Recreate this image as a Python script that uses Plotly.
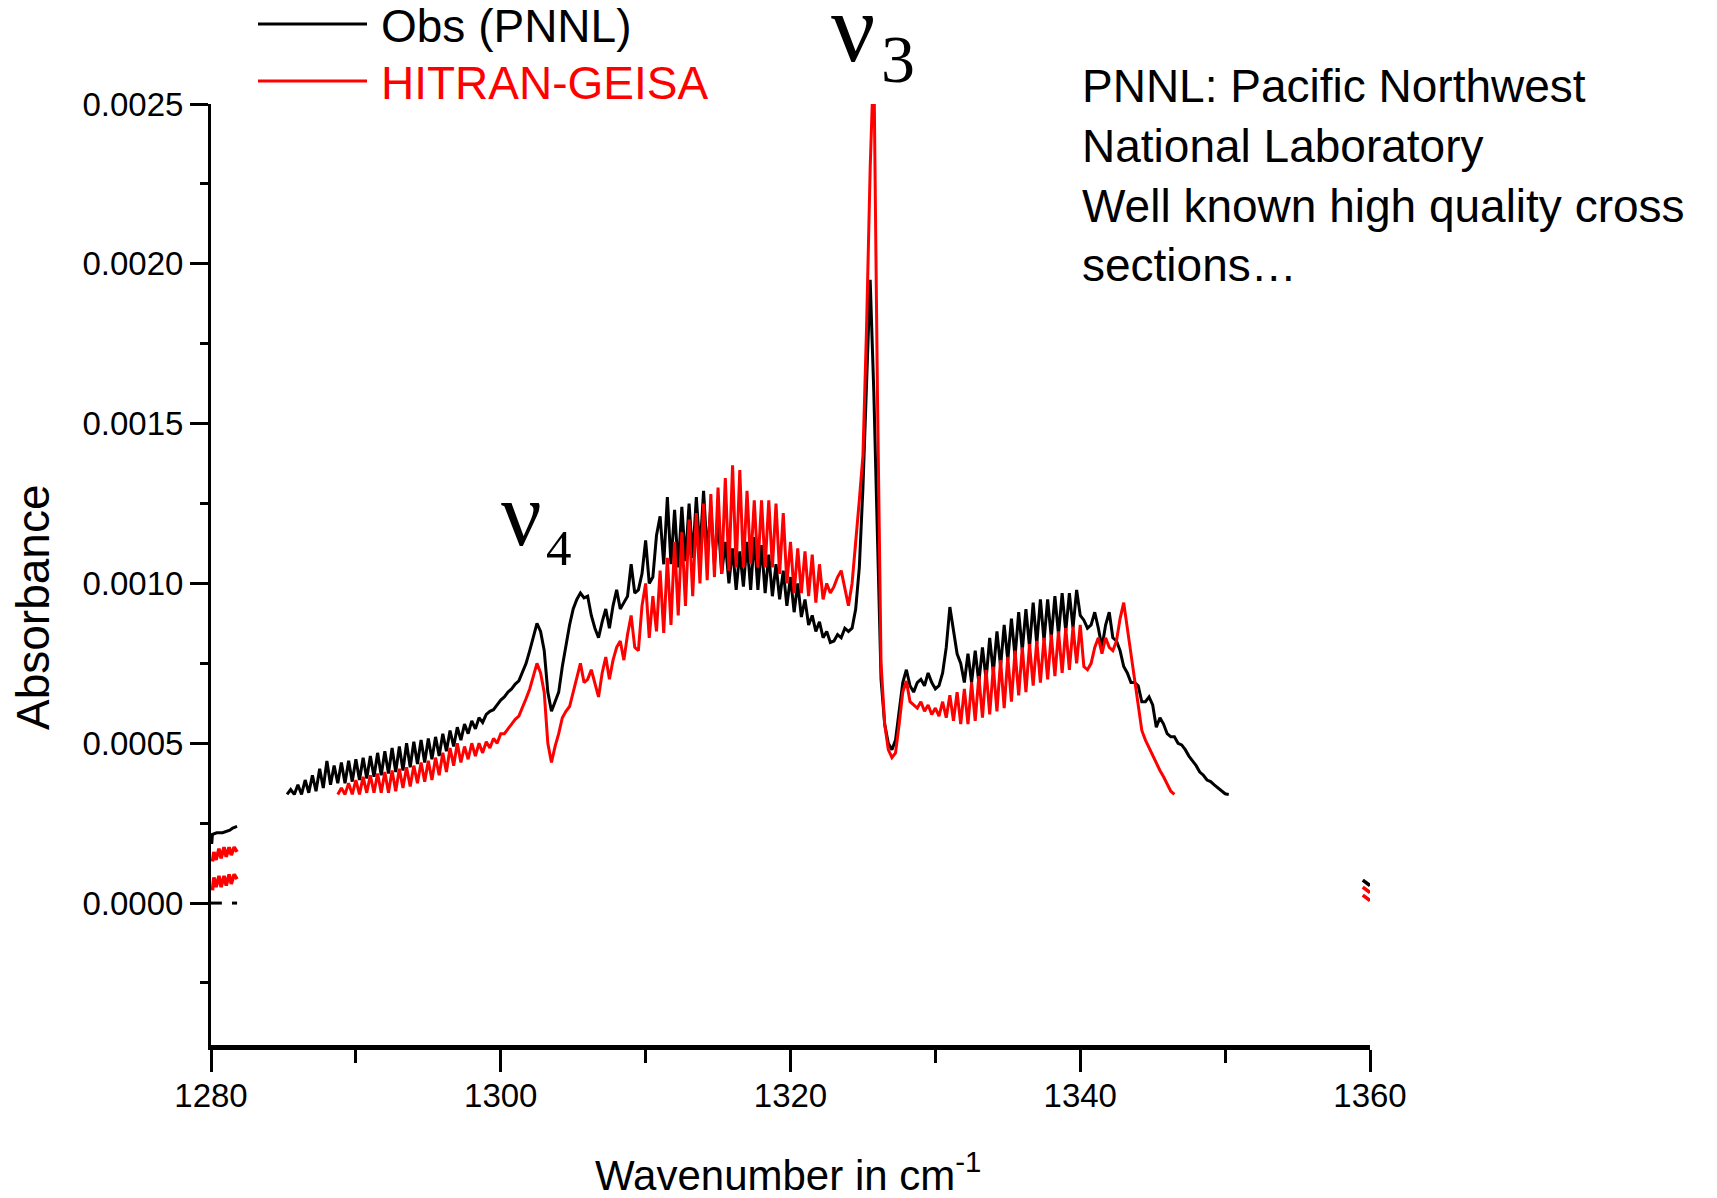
import plotly.graph_objects as go

# ---------------- data (absorbance in units of 1e-4) ----------------
WN_START = 1285.0   # cm-1, first sample of the main spectra
WN_STEP = 0.25      # cm-1 spacing of the main spectra samples

OBS_E4 = [
    None, 3.4, 3.55, 3.4,      # 1285
    3.7, 3.4, 3.85, 3.45,      # 1286
    4.0, 3.5, 4.2, 3.6,        # 1287
    4.45, 3.7, 4.3, 3.75,      # 1288
    4.4, 3.75, 4.45, 3.8,      # 1289
    4.5, 3.85, 4.55, 3.9,      # 1290
    4.6, 3.95, 4.7, 4.0,       # 1291
    4.75, 4.05, 4.85, 4.1,     # 1292
    4.9, 4.15, 5.0, 4.25,      # 1293
    5.05, 4.35, 5.1, 4.4,      # 1294
    5.15, 4.5, 5.2, 4.6,       # 1295
    5.3, 4.75, 5.4, 4.9,       # 1296
    5.5, 5.1, 5.6, 5.3,        # 1297
    5.7, 5.45, 5.8, 5.65,      # 1298
    5.9, 6.0, 6.05, 6.2,       # 1299
    6.35, 6.45, 6.6, 6.7,      # 1300
    6.85, 6.95, 7.2, 7.5,      # 1301
    7.9, 8.3, 8.75, 8.5,       # 1302
    7.9, 6.6, 6.0, 6.3,        # 1303
    6.6, 7.4, 8.1, 8.7,        # 1304
    9.2, 9.5, 9.7, 9.55,       # 1305
    9.6, 9.0, 8.6, 8.3,        # 1306
    8.8, 9.2, 8.6, 9.3,        # 1307
    9.8, 9.2, 9.4, 9.6,        # 1308
    10.6, 9.7, 9.8, 10.3,      # 1309
    11.35, 10.0, 10.2, 11.5,   # 1310
    12.1, 10.6, 12.7, 10.6,    # 1311
    12.3, 10.5, 12.4, 10.7,    # 1312
    12.5, 10.8, 12.7, 11.0,    # 1313
    12.9, 10.9, 12.4, 10.6,    # 1314
    12.0, 10.3, 11.3, 10.0,    # 1315
    11.1, 9.8, 11.0, 9.9,      # 1316
    11.3, 9.8, 11.45, 9.8,     # 1317
    11.2, 9.7, 10.9, 9.6,      # 1318
    10.6, 9.5, 10.4, 9.3,      # 1319
    10.2, 9.1, 10.0, 8.95,     # 1320
    9.5, 8.7, 9.0, 8.5,        # 1321
    8.8, 8.3, 8.5, 8.15,       # 1322
    8.2, 8.4, 8.3, 8.6,        # 1323
    8.5, 8.6, 9.2, 10.5,       # 1324
    13.0, 16.5, 19.5, 16.0,    # 1325
    11.0, 7.0, 5.6, 5.0,       # 1326
    4.8, 5.1, 6.0, 6.9,        # 1327
    7.3, 6.8, 6.6, 6.9,        # 1328
    7.0, 6.8, 7.2, 6.9,        # 1329
    6.7, 6.8, 7.2, 8.0,        # 1330
    9.26, 8.6, 7.8, 7.5,       # 1331
    6.9, 7.8, 6.9, 7.9,        # 1332
    6.9, 8.0, 7.0, 8.3,        # 1333
    7.2, 8.5, 7.4, 8.7,        # 1334
    7.6, 8.9, 7.7, 9.1,        # 1335
    7.9, 9.2, 8.0, 9.4,        # 1336
    8.1, 9.5, 8.2, 9.5,        # 1337
    8.3, 9.6, 8.4, 9.7,        # 1338
    8.5, 9.7, 8.6, 9.8,        # 1339
    9.0, 8.85, 8.6, 8.7,       # 1340
    9.1, 8.6, 8.0, 8.7,        # 1341
    9.1, 8.3, 8.2, 7.9,        # 1342
    7.4, 7.2, 6.9, 6.9,        # 1343
    6.8, 6.3, 6.3, 6.45,       # 1344
    6.2, 5.5, 5.8, 5.6,        # 1345
    5.3, 5.2, 5.2, 5.0,        # 1346
    4.95, 4.8, 4.6, 4.45,      # 1347
    4.3, 4.1, 4.0, 3.85,       # 1348
    3.8, 3.7, 3.6, 3.5,        # 1349
    3.42, 3.4, None, None,     # 1350
]

HITRAN_E4 = [
    None, None, None, None,    # 1285
    None, None, None, None,    # 1286
    None, None, None, None,    # 1287
    None, None, None, 3.4,     # 1288
    3.6, 3.4, 3.75, 3.4,       # 1289
    3.85, 3.4, 3.95, 3.45,     # 1290
    4.0, 3.45, 4.05, 3.45,     # 1291
    4.1, 3.45, 4.15, 3.5,      # 1292
    4.2, 3.6, 4.25, 3.65,      # 1293
    4.3, 3.75, 4.4, 3.8,       # 1294
    4.45, 3.85, 4.55, 4.0,     # 1295
    4.7, 4.1, 4.85, 4.3,       # 1296
    5.0, 4.4, 4.9, 4.5,        # 1297
    5.0, 4.6, 5.0, 4.7,        # 1298
    5.05, 4.85, 5.15, 5.0,     # 1299
    5.3, 5.3, 5.45, 5.6,       # 1300
    5.75, 5.85, 6.1, 6.4,      # 1301
    6.7, 7.1, 7.5, 7.2,        # 1302
    6.6, 5.0, 4.4, 4.9,        # 1303
    5.3, 5.8, 6.0, 6.15,       # 1304
    6.6, 7.1, 7.5, 6.9,        # 1305
    7.0, 7.3, 6.9, 6.45,       # 1306
    7.2, 7.7, 7.0, 7.6,        # 1307
    8.0, 8.2, 7.6, 8.4,        # 1308
    9.0, 8.0, 7.9, 9.3,        # 1309
    10.0, 8.3, 9.6, 8.5,       # 1310
    10.4, 8.45, 10.8, 8.7,     # 1311
    11.3, 9.0, 11.6, 9.3,      # 1312
    12.0, 9.6, 12.2, 10.0,     # 1313
    12.5, 10.1, 12.8, 10.2,    # 1314
    13.0, 10.3, 13.3, 10.4,    # 1315
    13.7, 10.5, 13.55, 10.5,   # 1316
    12.9, 10.6, 12.6, 10.5,    # 1317
    12.6, 10.5, 12.6, 10.5,    # 1318
    12.5, 10.3, 12.2, 10.0,    # 1319
    11.3, 9.7, 11.1, 9.7,      # 1320
    11.0, 9.6, 10.9, 9.4,      # 1321
    10.6, 9.5, 10.0, 9.7,      # 1322
    9.9, 10.2, 10.4, 9.8,      # 1323
    9.3, 10.0, 11.2, 12.6,     # 1324
    14.0, 18.0, 23.0, 26.5,    # 1325
    16.0, 7.5, 5.6, 4.8,       # 1326
    4.55, 4.7, 5.6, 6.6,       # 1327
    6.95, 6.3, 6.2, 6.1,       # 1328
    6.3, 6.0, 6.2, 5.9,        # 1329
    6.1, 5.85, 6.3, 5.8,       # 1330
    6.5, 5.7, 6.6, 5.6,        # 1331
    6.7, 5.6, 6.9, 5.7,        # 1332
    7.1, 5.8, 7.3, 5.9,        # 1333
    7.4, 6.0, 7.6, 6.1,        # 1334
    7.7, 6.3, 7.9, 6.5,        # 1335
    8.0, 6.6, 8.1, 6.8,        # 1336
    8.2, 6.9, 8.3, 7.0,        # 1337
    8.4, 7.1, 8.5, 7.2,        # 1338
    8.6, 7.3, 8.65, 7.5,       # 1339
    8.7, 7.4, 7.3, 7.5,        # 1340
    8.0, 8.3, 7.8, 8.3,        # 1341
    8.0, 7.9, 8.2, 8.9,        # 1342
    9.4, 8.6, 7.7, 6.9,        # 1343
    6.2, 5.4, 5.1, 4.85,       # 1344
    4.6, 4.4, 4.15, 3.95,      # 1345
    3.7, 3.5, 3.4, None,       # 1346
    None, None, None, None,    # 1347
    None, None, None, None,    # 1348
    None, None, None, None,    # 1349
    None, None, None, None,    # 1350
]

# small leftover fragments near the axis ends
LEFT_OBS_WN = [1280.05, 1280.1, 1280.4, 1280.8, 1281.3, 1281.5, 1281.8]
LEFT_OBS_E4 = [1.85, 2.15, 2.2, 2.2, 2.28, 2.35, 2.4]
LEFT_HIT_WN = [1280.1, 1280.2, 1280.35, 1280.55, 1280.7, 1280.9, 1281.05, 1281.25, 1281.4, 1281.6, 1281.8]
LEFT_HIT_A_E4 = [1.3, 1.6, 1.35, 1.7, 1.4, 1.75, 1.45, 1.75, 1.5, 1.75, 1.6]
LEFT_HIT_B_E4 = [0.4, 0.8, 0.5, 0.85, 0.5, 0.85, 0.55, 0.9, 0.6, 0.9, 0.75]
ZERO_DASH_WN = [1280.0, 1280.75, None, 1281.45, 1281.8]
ZERO_DASH_E4 = [0.0, 0.0, None, 0.0, 0.0]
RIGHT_WN = [1359.5, 1359.75, 1360.0]
RIGHT_OBS_E4 = [0.72, 0.62, 0.55]
RIGHT_HIT_A_E4 = [0.5, 0.42, 0.33]
RIGHT_HIT_B_E4 = [0.25, 0.18, 0.08]

X_TICKS = [1280, 1300, 1320, 1340, 1360]
Y_TICKS = [0.0, 0.0005, 0.0010, 0.0015, 0.0020, 0.0025]

SERIES_NAMES = ["Obs (PNNL)", "HITRAN-GEISA"]
SERIES_COLORS = ["#000000", "#ff0000"]


def to_abs(vals):
    return [None if v is None else v * 1e-4 for v in vals]


wn = [WN_START + i * WN_STEP for i in range(len(OBS_E4))]

# ---------------- layout geometry (pixels) ----------------
W, H = 1717, 1198
PL, PR, PT, PB = 211, 1370, 104, 1045  # plot area box


def px(xp):
    return (xp - PL) / (PR - PL)


def py(yp):
    return (PB - yp) / (PB - PT)


FONT = "Liberation Sans, Arial, sans-serif"
SERIF = "Liberation Serif, Times New Roman, serif"

fig = go.Figure()
LW = 3
fig.add_trace(go.Scatter(x=wn, y=to_abs(OBS_E4), mode="lines", name=SERIES_NAMES[0],
                         line=dict(color=SERIES_COLORS[0], width=LW), connectgaps=False))
fig.add_trace(go.Scatter(x=wn, y=to_abs(HITRAN_E4), mode="lines", name=SERIES_NAMES[1],
                         line=dict(color=SERIES_COLORS[1], width=LW), connectgaps=False))

# fragments
fig.add_trace(go.Scatter(x=LEFT_OBS_WN, y=to_abs(LEFT_OBS_E4), mode="lines",
                         line=dict(color=SERIES_COLORS[0], width=LW), showlegend=False))
fig.add_trace(go.Scatter(x=LEFT_HIT_WN, y=to_abs(LEFT_HIT_A_E4), mode="lines",
                         line=dict(color=SERIES_COLORS[1], width=LW + 0.5), showlegend=False))
fig.add_trace(go.Scatter(x=LEFT_HIT_WN, y=to_abs(LEFT_HIT_B_E4), mode="lines",
                         line=dict(color=SERIES_COLORS[1], width=LW + 0.5), showlegend=False))
fig.add_trace(go.Scatter(x=ZERO_DASH_WN, y=to_abs(ZERO_DASH_E4), mode="lines",
                         line=dict(color="#000000", width=3), showlegend=False))
fig.add_trace(go.Scatter(x=RIGHT_WN, y=to_abs(RIGHT_OBS_E4), mode="lines",
                         line=dict(color=SERIES_COLORS[0], width=LW + 0.5), showlegend=False))
fig.add_trace(go.Scatter(x=RIGHT_WN, y=to_abs(RIGHT_HIT_A_E4), mode="lines",
                         line=dict(color=SERIES_COLORS[1], width=LW + 0.5), showlegend=False))
fig.add_trace(go.Scatter(x=RIGHT_WN, y=to_abs(RIGHT_HIT_B_E4), mode="lines",
                         line=dict(color=SERIES_COLORS[1], width=LW + 0.5), showlegend=False))

annotations = []
shapes = []

# custom legend
for name, col, ly in zip(SERIES_NAMES, SERIES_COLORS, [24, 81]):
    shapes.append(dict(type="line", xref="paper", yref="paper",
                       x0=px(258), x1=px(367), y0=py(ly), y1=py(ly),
                       line=dict(color=col, width=3)))
    annotations.append(dict(text=name, xref="paper", yref="paper", x=px(379), y=py(ly + 2),
                            xanchor="left", yanchor="middle", showarrow=False,
                            font=dict(family=FONT, size=46, color=col)))

# nu labels: the big nu of nu3 gets a bottom-aligned box that stays inside the page
annotations.append(dict(text="\u03bd", xref="paper", yref="paper", x=px(829), y=py(84),
                        xanchor="left", yanchor="bottom", height=74, valign="bottom",
                        showarrow=False, font=dict(family=SERIF, size=98, color="black")))
for txt, xp, yp, fs in [("3", 879, 59, 68), ("\u03bd", 499, 514, 90), ("4", 544, 548, 51)]:
    annotations.append(dict(text=txt, xref="paper", yref="paper", x=px(xp), y=py(yp),
                            xanchor="left", yanchor="middle", showarrow=False,
                            font=dict(family=SERIF, size=fs, color="black")))

# description text
annotations.append(dict(
    text="PNNL: Pacific Northwest<br>National Laboratory<br>Well known high quality cross<br>sections\u2026",
    xref="paper", yref="paper", x=px(1080), y=py(175), xanchor="left", yanchor="middle",
    align="left", showarrow=False, font=dict(family=FONT, size=46, color="black")))

# axis titles
annotations.append(dict(text="Absorbance", xref="paper", yref="paper", x=px(33), y=py(607),
                        xanchor="center", yanchor="middle", textangle=-90, showarrow=False,
                        font=dict(family=FONT, size=46, color="black")))
annotations.append(dict(text="Wavenumber in cm<sup>-1</sup>", xref="paper", yref="paper",
                        x=px(788), y=py(1172), xanchor="center", yanchor="middle",
                        showarrow=False, font=dict(family=FONT, size=42, color="black")))

fig.update_layout(
    width=W, height=H,
    margin=dict(l=PL, r=W - PR, t=PT, b=H - PB, pad=0),
    paper_bgcolor="white", plot_bgcolor="white",
    showlegend=False,
    annotations=annotations, shapes=shapes,
    font=dict(family=FONT, color="black"),
)

fig.update_xaxes(
    range=[1280, 1360], tickmode="array", tickvals=X_TICKS,
    ticks="outside", ticklen=22, tickwidth=3, tickcolor="black",
    minor=dict(dtick=10, tick0=1280, ticks="outside", ticklen=13, tickwidth=3, tickcolor="black"),
    showline=True, linewidth=4.5, linecolor="black", mirror=False,
    showgrid=False, zeroline=False,
    tickfont=dict(family=FONT, size=33, color="black"), ticklabelstandoff=-4,
)
fig.update_yaxes(
    range=[-0.000444, 0.0025], tickmode="array", tickvals=Y_TICKS, tickformat=".4f",
    ticks="outside", ticklen=18, tickwidth=3, tickcolor="black",
    minor=dict(dtick=0.00025, tick0=0, ticks="outside", ticklen=8, tickwidth=3, tickcolor="black"),
    showline=True, linewidth=3, linecolor="black", mirror=False,
    showgrid=False, zeroline=False,
    tickfont=dict(family=FONT, size=33, color="black"), ticklabelstandoff=0,
)

fig.write_html("out.html")
